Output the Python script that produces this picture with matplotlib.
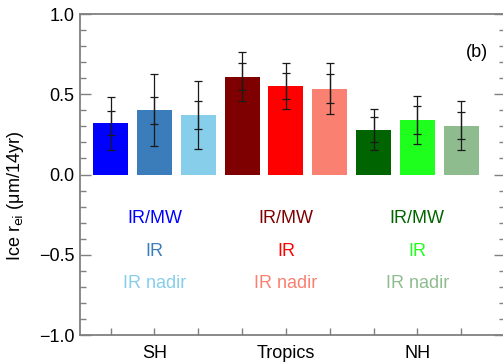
import numpy as np
import matplotlib
matplotlib.use("Agg")
import matplotlib.pyplot as plt
from matplotlib.ticker import MultipleLocator

plt.rcParams['font.family'] = ['Liberation Sans', 'DejaVu Sans']

# trends per region and retrieval type
regions = ["SH", "Tropics", "NH"]
types = ["IR/MW", "IR", "IR nadir"]
trend = [0.32, 0.40, 0.37, 0.61, 0.55, 0.535, 0.28, 0.34, 0.305]
err_outer = [0.165, 0.225, 0.21, 0.155, 0.145, 0.16, 0.13, 0.15, 0.155]
err_inner = [0.075, 0.085, 0.085, 0.085, 0.08, 0.09, 0.08, 0.085, 0.085]
colors = ["#0000FF", "#3B7CBB", "#87CEEB",
          "#7F0000", "#FF0000", "#FA8072",
          "#006400", "#1EFF1E", "#8FBC8F"]

fig = plt.figure(figsize=(5.03, 3.64), dpi=100)
ax = fig.add_axes([80/503, 29/364, 425/503, 321/364])

x = np.arange(1, len(trend) + 1)
ax.bar(x, trend, width=0.8, color=colors, zorder=2)
ax.errorbar(x, trend, yerr=err_outer, fmt='none', ecolor='#1a1a1a',
            elinewidth=0.9, capsize=3, capthick=0.9, zorder=3)
ax.errorbar(x, trend, yerr=err_inner, fmt='none', ecolor='#1a1a1a',
            elinewidth=0.9, capsize=3, capthick=0.9, zorder=3)

# retrieval type labels below zero, coloured like the bars
label_y = [-0.30, -0.505, -0.705]
for r in range(len(regions)):
    xc = x[3*r + 1]
    for k in range(len(types)):
        ax.text(xc, label_y[k], types[k], color=colors[3*r + k],
                ha='center', va='baseline', fontsize=13)

ax.text(9.61, 0.73, "(b)", ha='right', va='baseline', fontsize=13)

ax.set_xlim(0.3, 10.0)
ax.set_ylim(-1.0, 1.0)
ax.set_xticks(x)
ax.set_xticklabels(["" if i % 3 != 1 else regions[i // 3] for i in range(9)])
ax.yaxis.set_minor_locator(MultipleLocator(0.1))
ax.set_yticks([-1.0, -0.5, 0.0, 0.5, 1.0])
ax.set_yticklabels(["\u22121.0", "\u22120.5", "0.0", "0.5", "1.0"])

ax.tick_params(axis='y', which='major', direction='in', length=8, width=1,
               color='#808080', labelsize=13, pad=4, right=True)
ax.tick_params(axis='y', which='minor', direction='in', length=4, width=1,
               color='#808080', right=True)
ax.tick_params(axis='x', which='major', direction='in', length=5, width=1,
               color='#808080', labelsize=13, pad=7)
for s in ax.spines.values():
    s.set_color('#808080')
    s.set_linewidth(1.3)

ax.set_ylabel(r"Ice r$_{\rm ei}$ ($\mathregular{\mu}$m/14yr)", fontsize=13)
ax.yaxis.set_label_coords(-0.128, 0.433)

fig.savefig("out.png", dpi=100)
